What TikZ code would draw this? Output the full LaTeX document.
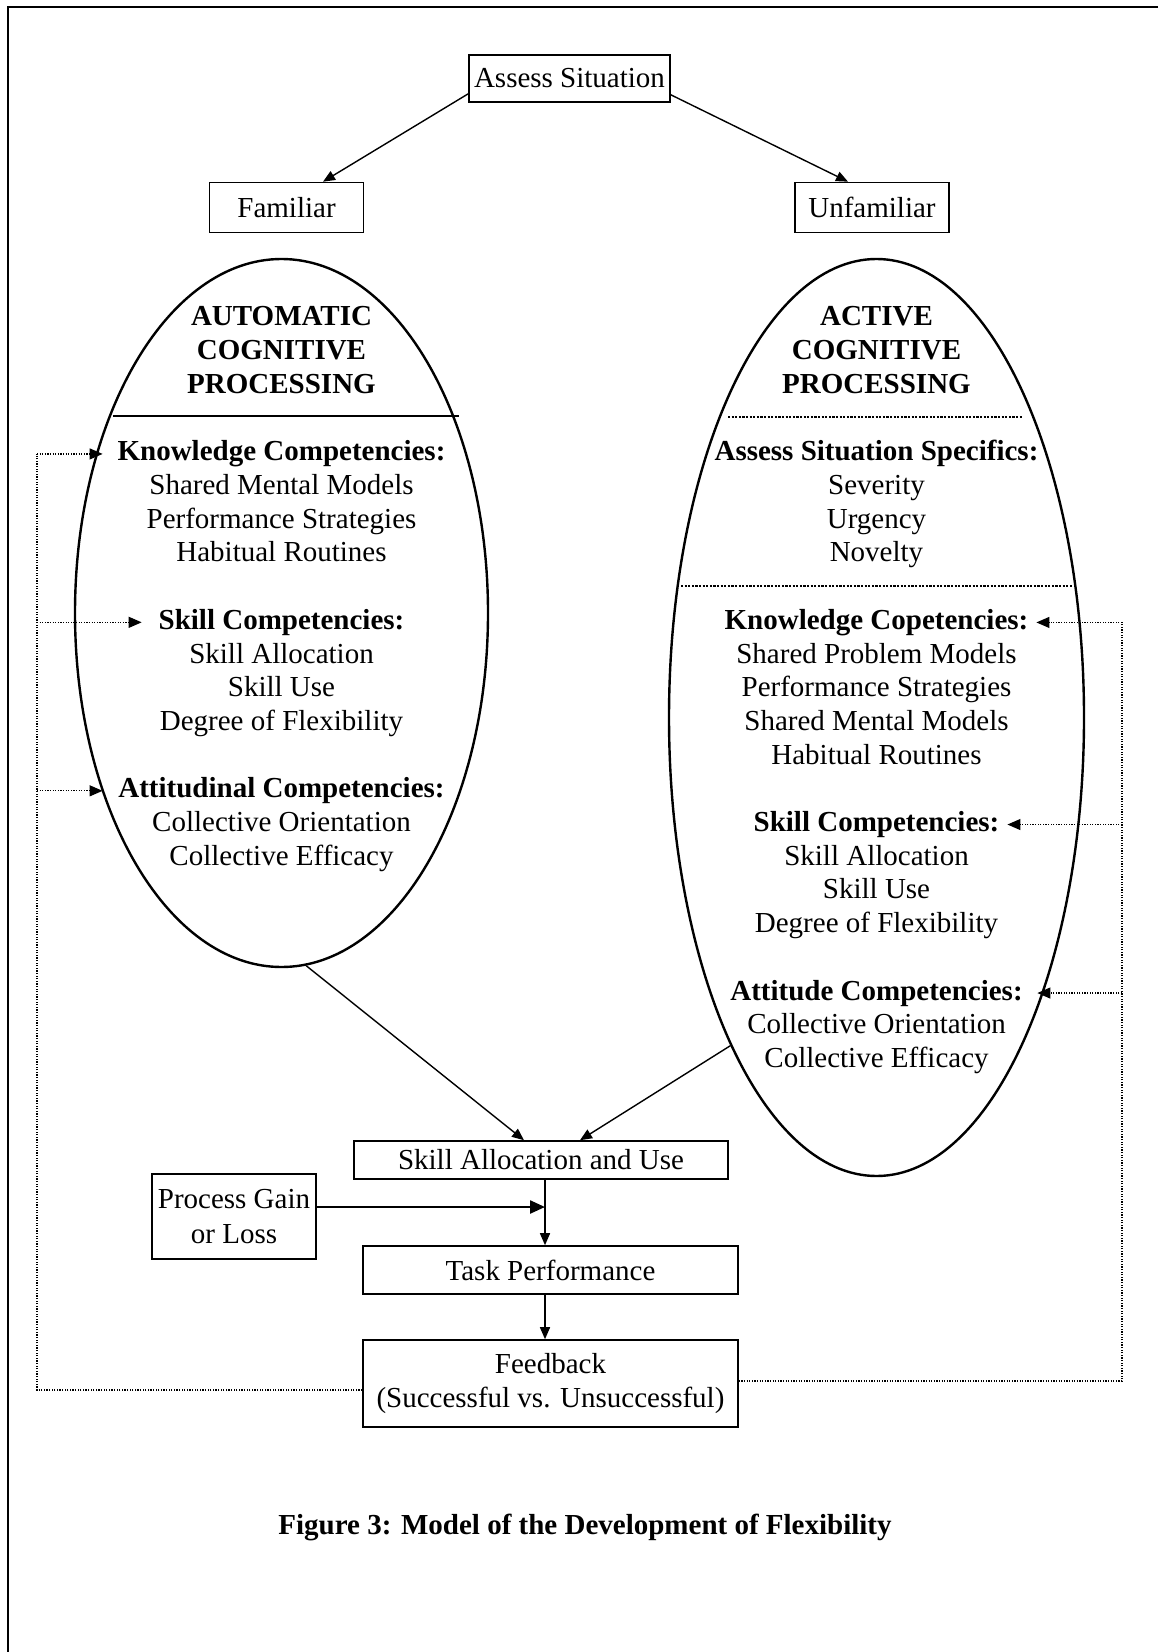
\documentclass[tikz,border=0pt]{standalone}
\usepackage{fontspec}
\setmainfont{Liberation Serif}
\usetikzlibrary{shapes.geometric,arrows.meta,calc}
\begin{document}
\begin{tikzpicture}[x=0.5pt,y=-0.5pt,
  every node/.style={font=\fontsize{14.5pt}{17.2pt}\selectfont},
  box/.style={draw,line width=0.8pt,inner sep=1pt,align=center},
  oval/.style={draw,ellipse,line width=1.2pt,inner sep=0pt},
  ln/.style={anchor=base,inner sep=0pt},
  hd/.style={anchor=base,inner sep=0pt,font=\fontsize{14.5pt}{17.2pt}\selectfont\bfseries},
  arr/.style={line width=0.7pt,-{Triangle[length=6pt,width=5pt]}},
  thickarr/.style={line width=1.2pt,-{Triangle[length=7.5pt,width=6.5pt]}},
  loopline/.style={line width=0.6pt,dash pattern=on 0.6pt off 0.7pt},
  looparr/.style={loopline,-{Triangle[length=6.5pt,width=5.5pt]}},
  sepdot/.style={line width=1.3pt,dash pattern=on 1.1pt off 0.7pt},
  frameline/.style={line width=0.8pt},
]
\useasboundingbox (0,0) rectangle (1158,1652);

% outer frame
\draw[frameline] (1158,7) -- (8,7) -- (8,1652);

% top boxes
\node[box,minimum width=100.5pt,minimum height=23.5pt] (assess) at (569.5,78.5) {Assess Situation};
\node[box,minimum width=77pt,minimum height=25pt] (fam) at (286.5,207.5) {Familiar};
\node[box,minimum width=77pt,minimum height=25pt] (unfam) at (872,207.5) {Unfamiliar};

% ellipses
\node[oval,minimum width=206.5pt,minimum height=354pt] (lell) at (281.5,613) {};
\node[oval,minimum width=207.5pt,minimum height=458.5pt] (rell) at (876.5,717.5) {};

% left ellipse text
\foreach \n/\t in {0/AUTOMATIC,1/COGNITIVE,2/PROCESSING,4/Knowledge Competencies:,9/Skill Competencies:,14/Attitudinal Competencies:}
  \node[hd] (L\n) at (281.5,{326+33.7*\n}) {\t};
\foreach \n/\t in {5/Shared Mental Models,6/Performance Strategies,7/Habitual Routines,10/Skill Allocation,11/Skill Use,12/Degree of Flexibility,15/Collective Orientation,16/Collective Efficacy}
  \node[ln] (L\n) at (281.5,{326+33.7*\n}) {\t};
\draw[line width=1.3pt] (113,416) -- (459,416);

% right ellipse text
\foreach \n/\t in {0/ACTIVE,1/COGNITIVE,2/PROCESSING,4/Assess Situation Specifics:,9/Knowledge Copetencies:,15/Skill Competencies:,20/Attitude Competencies:}
  \node[hd] (R\n) at (876.5,{326+33.7*\n}) {\t};
\foreach \n/\t in {5/Severity,6/Urgency,7/Novelty,10/Shared Problem Models,11/Performance Strategies,12/Shared Mental Models,13/Habitual Routines,16/Skill Allocation,17/Skill Use,18/Degree of Flexibility,21/Collective Orientation,22/Collective Efficacy}
  \node[ln] (R\n) at (876.5,{326+33.7*\n}) {\t};
\draw[sepdot] (728,417) -- (1023,417);
\draw[sepdot] (681,586) -- (1073,586);

% bottom boxes
\node[box,minimum width=187pt,minimum height=19pt] (sau) at (541,1160) {Skill Allocation and Use};
\node[box,minimum width=82pt,minimum height=42.5pt] (pgl) at (234,1216.5) {Process Gain\\or Loss};
\node[box,minimum width=187.5pt,minimum height=24pt] (task) at (550.5,1270) {Task Performance};
\node[box,minimum width=187.5pt,minimum height=43.5pt] (fb) at (550.5,1383.5) {Feedback\\(Successful vs. Unsuccessful)};

% caption
\node[hd] (cap) at (585,1534) {Figure 3: Model of the Development of Flexibility};

% connectors
\draw[arr] ([yshift=4.5pt]assess.south west) -- ([xshift=18.25pt]fam.north);
\draw[arr] ([yshift=4pt]assess.south east) -- ([xshift=-12pt]unfam.north);
\draw[arr] (lell.-86) -- ([xshift=-8.5pt]sau.north);
\draw[arr] (rell.-114.5) -- ([xshift=19.5pt]sau.north);

\coordinate (vx) at (545,1207);
\draw[arr] (sau.south -| vx) -- (task.north -| vx);
\draw[thickarr] (pgl.east |- vx) -- (vx);
\draw[arr] (task.south -| vx) -- (fb.north -| vx);

% feedback loops
\coordinate (fbl) at (37,1390);
\coordinate (fbr) at (1122,1381);
\draw[loopline] (fb.west |- fbl) -- (fbl) -- (fbl |- L4);
\draw[looparr] (fbl |- L4) -- ([xshift=-7.3pt]L4.west);
\draw[looparr] (fbl |- L9) -- ([xshift=-8.3pt]L9.west);
\draw[looparr] (fbl |- L14) -- ([xshift=-7.7pt]L14.west);

\draw[loopline] (fb.east |- fbr) -- (fbr) -- (fbr |- R9);
\draw[looparr] (fbr |- R9) -- ([xshift=3.85pt]R9.east);
\draw[looparr] (fbr |- R15) -- ([xshift=3.85pt]R15.east);
\draw[looparr] (fbr |- R20) -- ([xshift=7.15pt]R20.east);
\end{tikzpicture}
\end{document}
